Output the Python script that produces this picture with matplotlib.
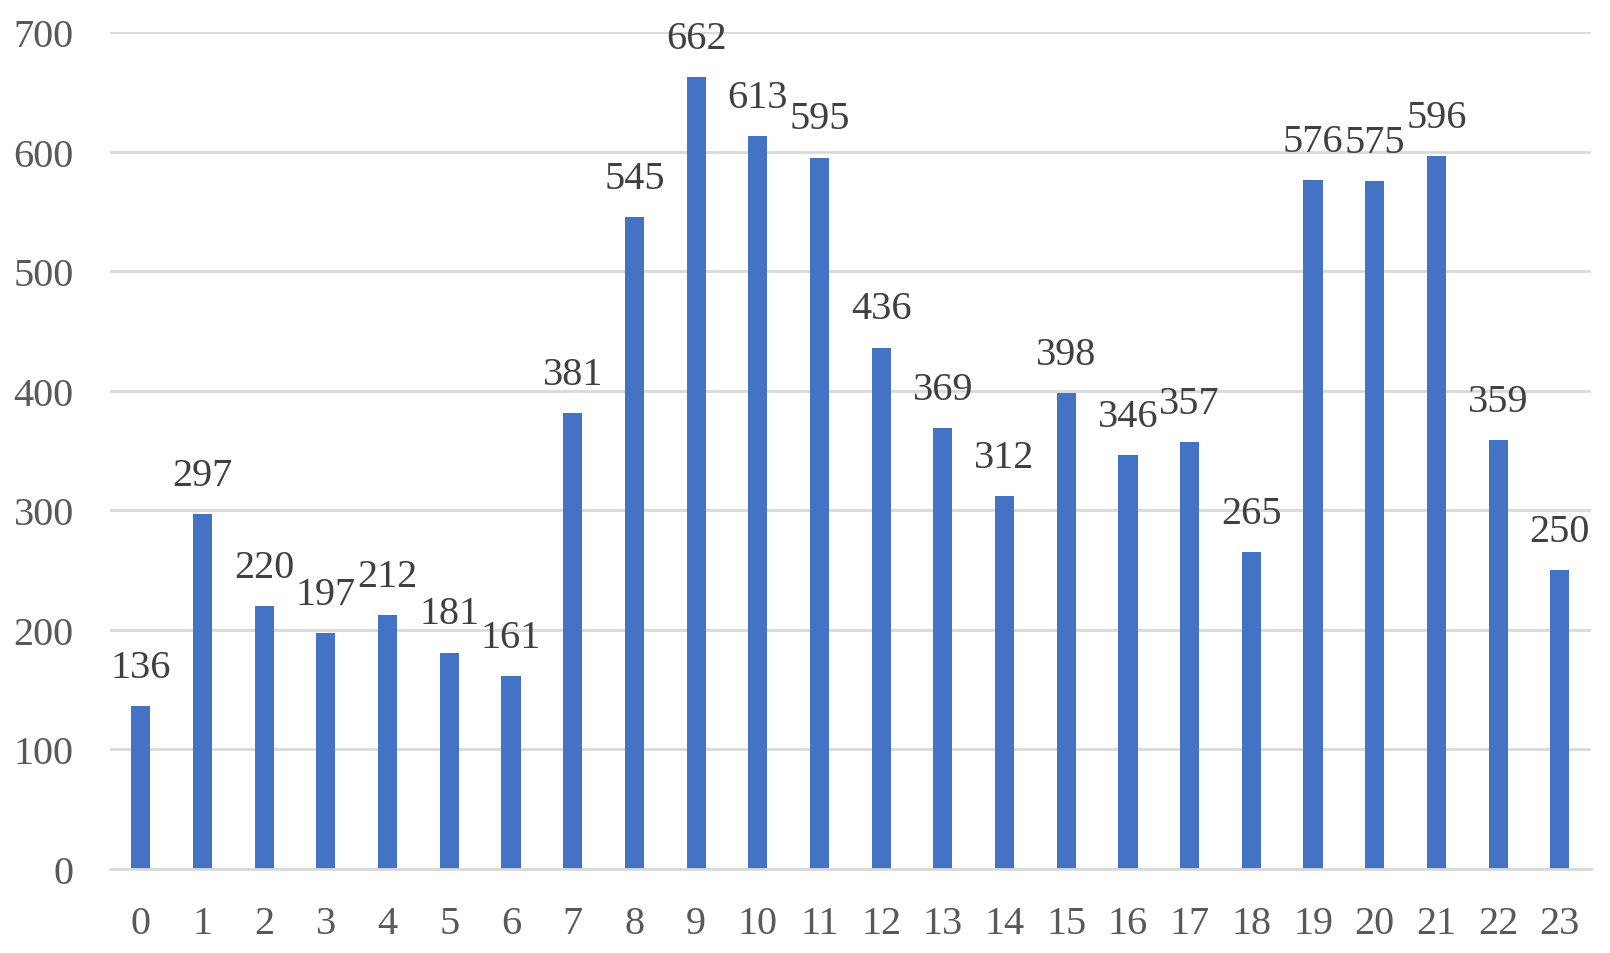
import matplotlib
matplotlib.use("Agg")
import matplotlib.pyplot as plt

hours = [str(h) for h in range(24)]
counts = [136, 297, 220, 197, 212, 181, 161, 381, 545, 662, 613, 595,
          436, 369, 312, 398, 346, 357, 265, 576, 575, 596, 359, 250]
yticks = [0, 100, 200, 300, 400, 500, 600, 700]

plt.rcParams['font.family'] = ['Liberation Serif', 'DejaVu Serif']

fig = plt.figure(figsize=(16.1, 9.54), dpi=100)
ax = fig.add_axes([0.0683, 0.0881, 0.988 - 0.0683, 0.9654 - 0.0881])

x = list(range(len(hours)))
bars = ax.bar(x, counts, width=0.31, color='#4472C4', zorder=3)

for xi, v in zip(x, counts):
    ax.annotate(str(v), (xi, v), xytext=(0, 21), textcoords='offset points',
                ha='center', va='baseline', fontsize=29, color='#404040')

ax.set_xlim(-0.5, 23.5)
ax.set_ylim(0, 700)
ax.set_xticks(x)
ax.set_xticklabels(hours)
ax.set_yticks(yticks)
ax.set_yticklabels([str(t) for t in yticks])
ax.tick_params(axis='both', length=0, labelsize=29, labelcolor='#595959')
ax.tick_params(axis='x', pad=26)
ax.tick_params(axis='y', pad=26)

ax.grid(axis='y', color='#D9D9D9', linewidth=2.0, zorder=0)
ax.set_axisbelow(True)
for s in ['top', 'right', 'left']:
    ax.spines[s].set_visible(False)
ax.spines['bottom'].set_color('#D9D9D9')
ax.spines['bottom'].set_linewidth(2.0)
ax.spines['bottom'].set_zorder(4)

fig.savefig('out.png', dpi=100)
